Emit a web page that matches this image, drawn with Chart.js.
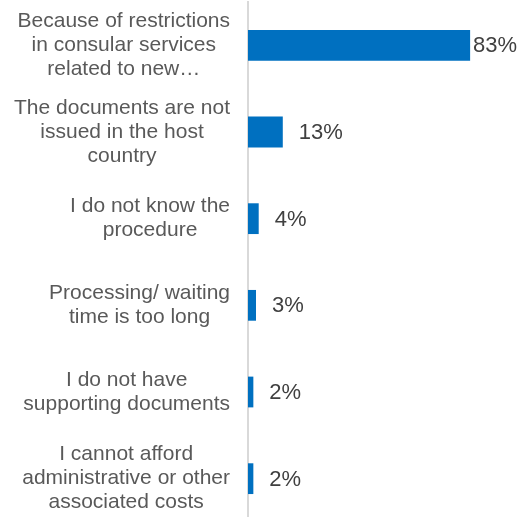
<!DOCTYPE html>
<html>
<head>
<meta charset="utf-8">
<script src="https://cdn.jsdelivr.net/npm/chart.js@4"></script>
<style>
  html, body { margin: 0; padding: 0; background: #fff; overflow: hidden; }
</style>
</head>
<body>
<canvas id="reasonsChart" width="529" height="524"></canvas>
<script>
  // reasons, one array of text lines per bar
  const reasons = [
    ['Because of restrictions', 'in consular services', 'related to new\u2026'],
    ['The documents are not', 'issued in the host', 'country'],
    ['I do not know the', 'procedure'],
    ['Processing/ waiting', 'time is too long'],
    ['I do not have', 'supporting documents'],
    ['I cannot afford', 'administrative or other', 'associated costs']
  ];
  const shares = [83, 13, 4, 3, 2, 2];
  const shareLabels = ['83%', '13%', '4%', '3%', '2%', '2%'];

  const barBlue = '#0070C0';
  const labelFont = '21px "Liberation Sans", Arial, sans-serif';
  const valueFont = '22px "Liberation Sans", Arial, sans-serif';

  // category text: each block centred on its own width, blocks right-aligned next to the axis
  const reasonLabels = {
    id: 'reasonLabels',
    afterDraw(chart) {
      const ctx = chart.ctx;
      const yScale = chart.scales.y;
      const right = chart.chartArea.left - 18;
      const lineH = 24;
      ctx.save();
      ctx.font = labelFont;
      ctx.fillStyle = '#595959';
      ctx.textAlign = 'center';
      ctx.textBaseline = 'middle';
      reasons.forEach(function(lines, i) {
        const yc = yScale.getPixelForValue(i);
        let maxW = 0;
        lines.forEach(function(l) { maxW = Math.max(maxW, ctx.measureText(l).width); });
        const xc = right - maxW / 2;
        lines.forEach(function(l, j) {
          ctx.fillText(l, xc, yc + (j - (lines.length - 1) / 2) * lineH);
        });
      });
      ctx.restore();
    }
  };

  // value text after each bar, pulled in when it would run off the edge
  const shareValues = {
    id: 'shareValues',
    afterDatasetsDraw(chart) {
      const ctx = chart.ctx;
      const meta = chart.getDatasetMeta(0);
      ctx.save();
      ctx.font = valueFont;
      ctx.fillStyle = '#404040';
      ctx.textAlign = 'left';
      ctx.textBaseline = 'middle';
      meta.data.forEach(function(bar, i) {
        const txt = shareLabels[i];
        const w = ctx.measureText(txt).width;
        let x = bar.x + 16;
        if (x + w > chart.width - 10) x = bar.x + 3;
        ctx.fillText(txt, x, bar.y + 1);
      });
      ctx.restore();
    }
  };

  new Chart(document.getElementById('reasonsChart'), {
    type: 'bar',
    data: {
      labels: reasons,
      datasets: [{
        data: shares,
        backgroundColor: barBlue,
        borderWidth: 0,
        barPercentage: 0.355,
        categoryPercentage: 1.0
      }]
    },
    options: {
      indexAxis: 'y',
      responsive: false,
      animation: false,
      layout: { padding: { left: 248, top: 2, bottom: 2, right: 0 } },
      scales: {
        x: { display: false, min: 0, max: 105 },
        y: {
          afterFit: function(scale) { scale.width = 0; },
          ticks: { display: false },
          grid: { display: false },
          border: { color: '#D9D9D9', width: 2 }
        }
      },
      plugins: {
        legend: { display: false },
        tooltip: { enabled: false }
      }
    },
    plugins: [reasonLabels, shareValues]
  });
</script>
</body>
</html>
